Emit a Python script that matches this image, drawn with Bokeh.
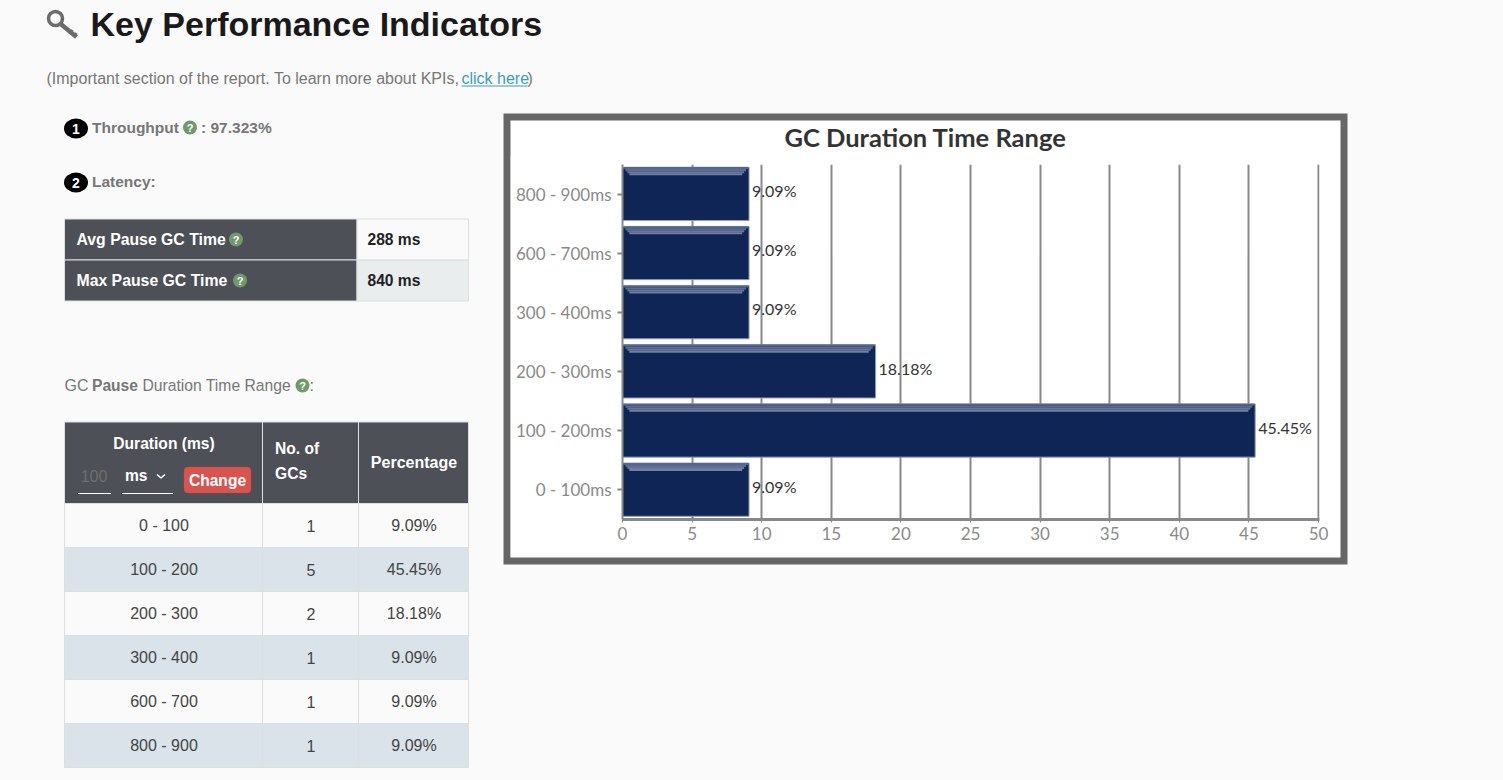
from bokeh.plotting import figure
from bokeh.embed import file_html
from bokeh.resources import INLINE
from bokeh.core.properties import value
from bokeh.models import Range1d, FactorRange, FixedTicker, BoxAnnotation

# ---- data ----
categories = ["0 - 100ms", "100 - 200ms", "200 - 300ms", "300 - 400ms", "600 - 700ms", "800 - 900ms"]
percentages = [9.09, 45.45, 18.18, 9.09, 9.09, 9.09]
percent_labels = ["9.09%", "45.45%", "18.18%", "9.09%", "9.09%", "9.09%"]
x_ticks = [0, 5, 10, 15, 20, 25, 30, 35, 40, 45, 50]
table_durations = ["0 - 100", "100 - 200", "200 - 300", "300 - 400", "600 - 700", "800 - 900"]
table_counts = ["1", "5", "2", "1", "1", "1"]
table_percents = ["9.09%", "45.45%", "18.18%", "9.09%", "9.09%", "9.09%"]
kpi_names = ["Avg Pause GC Time", "Max Pause GC Time"]
kpi_values = ["288 ms", "840 ms"]

PAGE = "#fafafa"
SANS = "Liberation Sans"
CHART = "Lato"
DARK = "#4d5056"
RULE = "#dcdfe0"
HELP = "#6f9a6c"
W, H = 1400, 775


def label(p, x, y, s, size=16, color="#777777", bold=False, align="left", font=SANS, level="glyph"):
    p.text(x=[x], y=[y], text=[s], text_font=value(font), text_font_size=f"{size}px",
           text_color=color, text_align=align, text_baseline="middle",
           text_font_style="bold" if bold else "normal", level=level)


def help_icon(p, x, y):
    p.scatter(x=[x], y=[y], size=14, marker="circle", fill_color=HELP, line_color=None)
    label(p, x, y + 0.5, "?", size=11, color="#ffffff", bold=True, align="center")


# ---- page: heading, left column, chart panel ----
page = figure(width=W, height=H, x_range=Range1d(1, W + 1), y_range=Range1d(H + 0.5, 0.5),
              output_backend="svg", toolbar_location=None, tools="", min_border=0,
              background_fill_color=PAGE, border_fill_color=PAGE, outline_line_color=None)
page.axis.visible = False
page.grid.visible = False

key = "#6c6c6c"
page.line([60, 77], [23, 37], line_color=key, line_width=4.5)
page.line([70, 73], [34, 30], line_color=key, line_width=2.5)
page.line([74, 77], [37, 33], line_color=key, line_width=2.5)
page.scatter(x=[56], y=[18.5], size=14, marker="circle", fill_color=PAGE, line_color=key, line_width=3.5)
label(page, 91, 24, "Key Performance Indicators", size=34, color="#1a1a1a", bold=True)
label(page, 47, 78.5, "(Important section of the report. To learn more about KPIs, ")
label(page, 462, 78.5, "click here", color="#3a9cc4")
page.line([462, 528], [86, 86], line_color="#3a9cc4", line_width=1)
label(page, 528, 78.5, ")")

for cy, num, txt in [(128.5, "1", "Throughput"), (182.5, "2", "Latency:")]:
    page.ellipse(x=[76.5], y=[cy], width=24, height=20, fill_color="#000000", line_color=None)
    label(page, 76.5, cy, num, size=14, color="#ffffff", bold=True, align="center")
    label(page, 92.5, cy - 1, txt, size=15.5, bold=True)
help_icon(page, 190.5, 127.5)
label(page, 201.5, 127.5, ": 97.323%", size=15.5, bold=True)

# KPI table
kpi_rows = [(219, 260), (260, 301)]
page.quad(left=[65, 65], right=[357.5, 357.5], top=[t for t, _ in kpi_rows], bottom=[b for _, b in kpi_rows],
          fill_color=DARK, line_color=RULE, line_width=1)
page.quad(left=[357.5, 357.5], right=[469, 469], top=[t for t, _ in kpi_rows], bottom=[b for _, b in kpi_rows],
          fill_color=[PAGE, "#e9eded"], line_color=RULE, line_width=1)
for (t, b), name, val, hx in zip(kpi_rows, kpi_names, kpi_values, [236.5, 240.5]):
    cy = (t + b) / 2
    label(page, 77, cy, name, size=15.8, color="#ffffff", bold=True)
    help_icon(page, hx, cy)
    label(page, 368, cy, val, size=15.6, color="#222222", bold=True)

# caption
label(page, 65, 385.5, "GC ")
label(page, 92.5, 385.5, "Pause", size=15.6, bold=True)
label(page, 143, 385.5, "Duration Time Range", size=15.7)
help_icon(page, 303, 385.5)
label(page, 310, 385.5, ":")

# duration table header
col_edges = [65, 263, 359, 469]
page.quad(left=col_edges[:-1], right=col_edges[1:], top=[422] * 3, bottom=[503.5] * 3,
          fill_color=DARK, line_color=RULE, line_width=1)
label(page, 164.5, 443.5, "Duration (ms)", size=15.6, color="#ffffff", bold=True, align="center")
label(page, 94.5, 475.5, "100", color="#6e6e6e", align="center")
page.line([78.5, 111.5], [493.5, 493.5], line_color="#ffffff", line_width=1)
label(page, 125.5, 475.5, "ms", size=15.6, color="#ffffff", bold=True)
page.line([157.5, 161.5, 165.5], [474.5, 478, 474.5], line_color="#ffffff", line_width=1.5)
page.line([122.5, 173.5], [493.5, 493.5], line_color="#ffffff", line_width=1)
page.add_layout(BoxAnnotation(left=184.5, right=251.5, top=467, bottom=493, fill_color="#d9534f", fill_alpha=1,
                              line_color="#d43f3a", line_width=1, border_radius=4))
label(page, 218, 480.5, "Change", size=15.6, color="#ffffff", bold=True, align="center", level="overlay")
label(page, 275.5, 448.5, "No. of", size=15.6, color="#ffffff", bold=True)
label(page, 275.5, 473.5, "GCs", size=15.6, color="#ffffff", bold=True)
label(page, 414.5, 462.5, "Percentage", color="#ffffff", bold=True, align="center")

# duration table rows
for i, (dur, cnt, pct) in enumerate(zip(table_durations, table_counts, table_percents)):
    t = 503.5 + 44 * i
    fill = PAGE if i % 2 == 0 else "#dae3e9"
    page.quad(left=col_edges[:-1], right=col_edges[1:], top=[t] * 3, bottom=[t + 44] * 3,
              fill_color=fill, line_color=RULE, line_width=1)
    cy = t + 22
    label(page, 164.5, cy, dur, color="#444444", align="center")
    label(page, 311.5, cy, cnt, color="#444444", align="center")
    label(page, 414.5, cy, pct, color="#444444", align="center")

# panel and title behind the chart
page.quad(left=[504], right=[1348], top=[113.5], bottom=[564.5], fill_color="#666666", line_color=None)
page.quad(left=[511], right=[1341], top=[120.5], bottom=[557.5], fill_color="#ffffff", line_color=None)
label(page, 926, 136.5, "GC Duration Time Range", size=25.5, color="#333333", bold=True, align="center", font=CHART)

# ---- bar chart ----
chart = figure(frame_width=697, frame_height=355, x_range=Range1d(0, 50.072),
               y_range=FactorRange(factors=categories, range_padding=0),
               output_backend="svg", toolbar_location=None, tools="", min_border_left=112, min_border_right=21,
               min_border_top=9, min_border_bottom=38, background_fill_color="#ffffff",
               border_fill_color="#ffffff", outline_line_color=None,
               styles={"position": "absolute", "left": "510px", "top": "155px"})
chart.ygrid.visible = False
chart.xgrid.ticker = FixedTicker(ticks=x_ticks)
chart.xgrid.grid_line_color = "#888888"
chart.xgrid.grid_line_width = 2
chart.xaxis.ticker = FixedTicker(ticks=x_ticks)
chart.xaxis.axis_line_color = "#888888"
chart.xaxis.axis_line_width = 3
chart.xaxis.major_tick_line_color = "#888888"
chart.xaxis.major_tick_in = 0
chart.xaxis.major_tick_out = 3
chart.yaxis.axis_line_color = "#888888"
chart.yaxis.axis_line_width = 2
chart.yaxis.major_tick_line_color = "#888888"
chart.yaxis.major_tick_line_width = 2
chart.yaxis.major_tick_in = 0
chart.yaxis.major_tick_out = 5
chart.yaxis.major_label_standoff = 6
chart.xaxis.major_label_standoff = 4
chart.axis.minor_tick_line_color = None
chart.axis.major_label_text_color = "#8a8a8a"
chart.axis.major_label_text_font = CHART
chart.axis.major_label_text_font_size = "17px"

chart.hbar(y=[(c, 0.004) for c in categories], left=0, right=percentages, height=0.9,
           fill_color="#0f2555", line_color="#8f9cb8", line_width=1)

# bevel strips along the top of each bar
bevel_colors = ["#55658e", "#5d6c93", "#677699", "#7280a2"]
for k, col in enumerate(bevel_colors):
    chart.hbar(y=[(c, 0.439 - 0.034 * k) for c in categories],
               left=[0.14 * k + 0.07] * len(categories),
               right=[v - 0.14 * k - 0.07 for v in percentages],
               height=0.034, fill_color=col, line_color=None)

chart.text(x=percentages, y=[(c, 0.06) for c in categories], text=percent_labels, x_offset=3,
           text_font=value(CHART), text_font_size="16px", text_color="#333333",
           text_align="left", text_baseline="middle")

html = file_html([page, chart], INLINE).replace("<body>", f'<body style="background:{PAGE}">')
open("out.html", "w").write(html)
